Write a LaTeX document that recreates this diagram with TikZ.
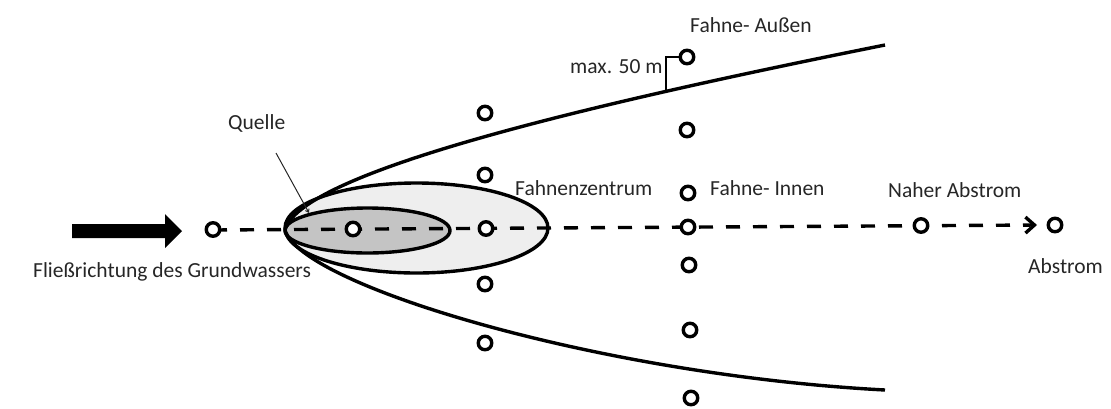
\documentclass[tikz,border=0pt]{standalone}
\usepackage{fontspec}
\setmainfont{Carlito}
\usetikzlibrary{arrows.meta}
\definecolor{plumelight}{RGB}{238,238,238}
\definecolor{plumedark}{RGB}{196,196,196}
\definecolor{labelgray}{RGB}{38,38,38}
\tikzset{
  well/.style={circle, draw=black, fill=white, line width=3.4pt, minimum size=13.5pt, inner sep=0pt},
  thick line/.style={line width=3.4pt},
  lbl/.style={anchor=base west, inner sep=0pt, text=labelgray, font=\fontsize{21.5}{24}\selectfont},
  flowline/.style={line width=3.4pt, dash pattern=on 14pt off 13pt},
}
\begin{document}
\begin{tikzpicture}[x=1pt, y=-1pt]
  \useasboundingbox (0,0) rectangle (1111,408);

  % source zone and plume centre
  \draw[thick line, fill=plumelight] (416.5,228) ellipse [x radius=131.5, y radius=45];
  \draw[thick line, fill=plumedark] (367.5,230.5) ellipse [x radius=82.5, y radius=22.5];

  % plume envelope
  \coordinate (src) at (285,230);
  \coordinate (upperEnd) at (885,45);
  \coordinate (lowerEnd) at (885,390);
  \draw[thick line] (src) .. controls (300,175) and (560,110) .. (upperEnd);
  \draw[thick line] (src) .. controls (300,285) and (600,375) .. (lowerEnd);

  % groundwater flow arrow
  \fill (72,224) -- (165,224) -- (165,214) -- (182,231) -- (165,248) -- (165,238) -- (72,238) -- cycle;

  % flow axis
  \coordinate (axisStart) at (213,230);
  \coordinate (axisEnd) at (1037,225);
  \draw[flowline, -{Straight Barb[length=9pt,width=16pt,line width=3.4pt]}] (axisStart) -- (axisEnd);

  % observation wells on the axis
  \node[well] (w0) at (213,229.5) {};
  \node[well] (w1) at (353,229) {};
  \node[well] (w2) at (486,228.5) {};
  \node[well] (w3) at (688,227) {};
  \node[well] (w4) at (921,225.5) {};
  \node[well] (w5) at (1055,225) {};

  % wells beside the axis
  \node[well] (a1) at (485,113) {};
  \node[well] (a2) at (485,175) {};
  \node[well] (a3) at (485,284) {};
  \node[well] (a4) at (485,343) {};
  \node[well] (b1) at (687,57) {};
  \node[well] (b2) at (687,130) {};
  \node[well] (b3) at (688,193) {};
  \node[well] (b4) at (689,265) {};
  \node[well] (b5) at (690,330) {};
  \node[well] (b6) at (691,398) {};

  % distance bracket
  \coordinate (edge) at (666,91);
  \draw[line width=1.3pt] (edge) |- (b1.west);

  % source label with leader
  \coordinate (leaderStart) at (276,153);
  \coordinate (leaderEnd) at (309,213);
  \draw[line width=1pt, labelgray, -{Straight Barb[length=3pt,width=4pt]}] (leaderStart) -- (leaderEnd);

  % labels
  \node[lbl] (tflow) at (33,277) {Fließrichtung des Grundwassers};
  \node[lbl] (tsrc) at (228,129) {Quelle};
  \node[lbl] (tcentre) at (515,195) {Fahnenzentrum};
  \node[lbl] (tinner) at (710,195) {Fahne- Innen};
  \node[lbl] (tnear) at (888,197) {Naher Abstrom};
  \node[lbl] (tdown) at (1028,273) {Abstrom};
  \node[lbl] (touter) at (690,32) {Fahne- Außen};
  \node[lbl] (tmax) at (570,73) {max. 50 m};
\end{tikzpicture}
\end{document}
